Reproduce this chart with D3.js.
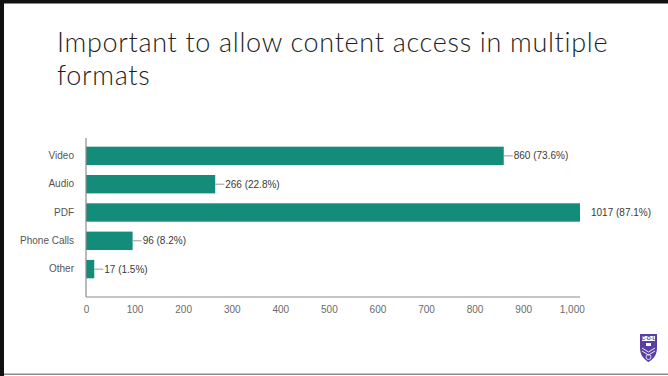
<!DOCTYPE html>
<html><head><meta charset="utf-8">
<script src="https://cdn.jsdelivr.net/npm/d3@7"></script>
<style>
html,body{margin:0;padding:0;background:#fff;}
svg{display:block;}
</style></head>
<body>
<svg id="c" width="668" height="376"></svg>
<script>
const titleLines = ["Important to allow content access in multiple", "formats"];
const categories = ["Video", "Audio", "PDF", "Phone Calls", "Other"];
const counts = [860, 266, 1017, 96, 17];
const percents = ["73.6%", "22.8%", "87.1%", "8.2%", "1.5%"];
const xTicks = [0, 100, 200, 300, 400, 500, 600, 700, 800, 900, 1000];

const svg = d3.select("#c");

// slide frame
svg.append("rect").attr("x",0).attr("y",0).attr("width",4).attr("height",376).attr("fill","#111");
svg.append("rect").attr("x",0).attr("y",0).attr("width",668).attr("height",3.5).attr("fill","#111");
svg.append("rect").attr("x",4).attr("y",373.5).attr("width",664).attr("height",1.5).attr("fill","#8a8a8a");

// title
const tFont = "Lato, 'Open Sans', sans-serif";
const t1 = svg.append("text").attr("x",57).attr("y",52)
  .attr("font-family",tFont).attr("font-weight",300).attr("font-size",26).attr("fill","#1e1e1e")
  .text(titleLines[0]);
const w = t1.node().getComputedTextLength();
const fs = Math.min(27, 26 * 551 / w);
t1.attr("font-size", fs);
const w2 = t1.node().getComputedTextLength();
if (w2 < 545) t1.attr("letter-spacing", (551 - w2) / (titleLines[0].length - 1));
const t2 = svg.append("text").attr("x",57).attr("y",85)
  .attr("font-family",tFont).attr("font-weight",300).attr("font-size",fs).attr("fill","#1e1e1e")
  .text(titleLines[1]);
if (w2 < 545) t2.attr("letter-spacing", (551 - w2) / (titleLines[0].length - 1));

// scales
const x = d3.scaleLinear().domain([0, d3.max(counts)]).range([86, 580]);
const y = d3.scaleBand().domain(categories).range([128, 297]).paddingInner(0.35).paddingOuter(0.66);

const font = "'Liberation Sans', Arial, sans-serif";
const barColor = "#138d7a";

// bars
svg.selectAll("rect.bar").data(categories).enter().append("rect")
  .attr("class","bar")
  .attr("x", x(0))
  .attr("y", d => y(d))
  .attr("width", (d,i) => x(counts[i]) - x(0))
  .attr("height", y.bandwidth())
  .attr("fill", barColor);

// axes lines
svg.append("line").attr("x1",x(0)).attr("x2",x(0)).attr("y1",138).attr("y2",297)
  .attr("stroke","#8c8c8c").attr("stroke-width",1.2);
svg.append("line").attr("x1",x(0)).attr("x2",x.range()[1]).attr("y1",297).attr("y2",297)
  .attr("stroke","#8c8c8c").attr("stroke-width",1.2);

// x tick labels
const xAxis = d3.axisBottom(x).tickValues(xTicks).tickSize(0).tickPadding(9)
  .tickFormat(d3.format(","));
const gx = svg.append("g").attr("transform","translate(0,297)").call(xAxis);
gx.select(".domain").remove();
gx.selectAll("text").attr("font-family",font).attr("font-size",10).attr("fill","#6a6a6a");

// y category labels
const yAxis = d3.axisLeft(y).tickSize(0).tickPadding(12);
const gy = svg.append("g").attr("transform",`translate(${x(0)},0)`).call(yAxis);
gy.select(".domain").remove();
gy.selectAll("text").attr("font-family",font).attr("font-size",10).attr("fill","#555");

// value labels with leader lines
const maxV = d3.max(counts);
categories.forEach((c,i) => {
  const xe = x(counts[i]);
  const yc = y(c) + y.bandwidth()/2;
  const isMax = counts[i] === maxV;
  if (!isMax) {
    svg.append("line").attr("x1",xe).attr("x2",xe+9).attr("y1",yc).attr("y2",yc)
      .attr("stroke","#999").attr("stroke-width",1);
  }
  svg.append("text").attr("x", isMax ? xe+11 : xe+10).attr("y", yc).attr("dy","0.35em")
    .attr("font-family",font).attr("font-size",10).attr("fill","#3a3a3a")
    .text(`${counts[i]} (${percents[i]})`);
});

// logo (shield)
const lg = svg.append("g").attr("transform","translate(640,334)");
lg.append("path").attr("d","M0,0 H17 V14 C17,22 12,26 8.5,28 C5,26 0,22 0,14 Z").attr("fill","#5a3ea6");
lg.append("rect").attr("x",2).attr("y",2).attr("width",13).attr("height",5).attr("fill","#fff");
lg.append("text").attr("x",8.5).attr("y",6.3).attr("text-anchor","middle").attr("font-family",font)
  .attr("font-size",5).attr("font-weight","bold").attr("fill","#5a3ea6").text("C·O·L");
lg.append("rect").attr("x",6).attr("y",9).attr("width",5).attr("height",3).attr("fill","#fff");
lg.append("path").attr("d","M2,14 L8.5,18 L15,14 M2,17 L8.5,21 L15,17").attr("stroke","#fff").attr("stroke-width",0.9).attr("fill","none");
lg.append("circle").attr("cx",8.5).attr("cy",23).attr("r",2.5).attr("fill","none").attr("stroke","#fff").attr("stroke-width",0.8);
</script>
</body></html>
